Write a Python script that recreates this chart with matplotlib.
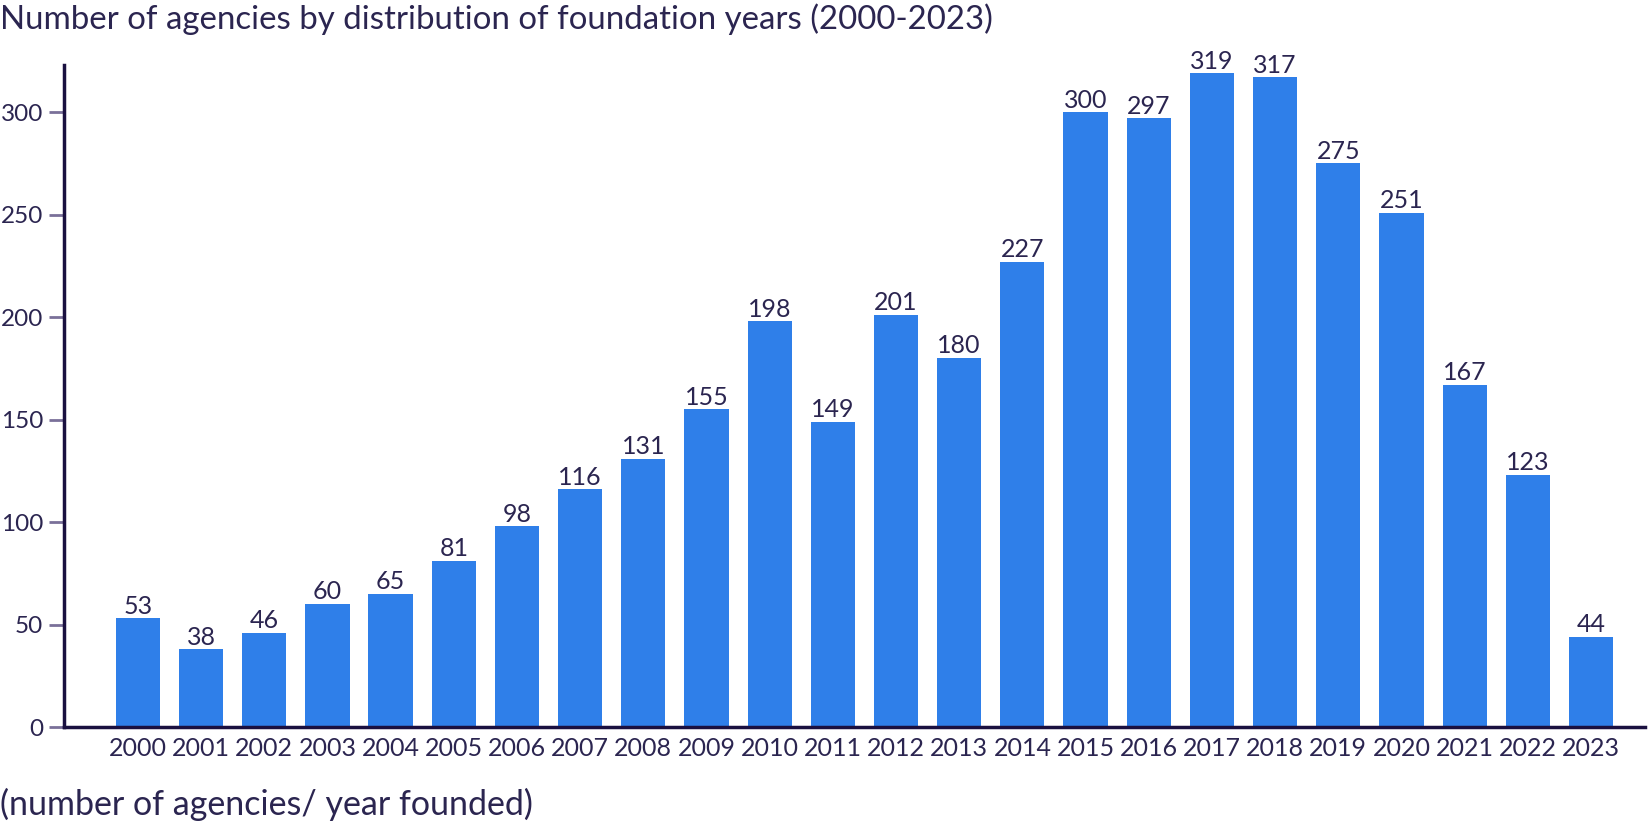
import matplotlib.pyplot as plt

# data
years = [str(y) for y in range(2000, 2024)]
agencies = [53, 38, 46, 60, 65, 81, 98, 116, 131, 155, 198, 149,
            201, 180, 227, 300, 297, 319, 317, 275, 251, 167, 123, 44]
yticks = [0, 50, 100, 150, 200, 250, 300]

text_col = '#2b2550'
bar_col = '#2f7fe9'

plt.rcParams['font.family'] = ['Lato', 'DejaVu Sans']

fig = plt.figure(figsize=(16.48, 8.23), dpi=100)
ax = fig.add_axes([0.0388, 0.1166, 0.9592, 0.8044])

x = range(len(years))
bars = ax.bar(x, agencies, width=0.7, color=bar_col)
for xi, v in zip(x, agencies):
    ax.text(xi, v + 0.3, str(v), ha='center', va='bottom',
            fontsize=18, color=text_col)

ax.set_xlim(-1.17, 23.85)
ax.set_ylim(0, 323)
ax.set_xticks(list(x))
ax.set_xticklabels(years)
ax.set_yticks(yticks)

for s in ['top', 'right']:
    ax.spines[s].set_visible(False)
for s in ['left', 'bottom']:
    ax.spines[s].set_color('#1a1040')
    ax.spines[s].set_linewidth(2.5)

ax.tick_params(axis='x', length=0, pad=7, labelsize=18, labelcolor=text_col)
ax.tick_params(axis='y', length=11, width=2, color='#7a7099', pad=4,
               labelsize=17.5, labelcolor=text_col)

fig.text(0.0, 0.977, 'Number of agencies by distribution of foundation years (2000-2023)',
         ha='left', va='center', fontsize=23.8, color=text_col)
fig.text(0.0, 0.022, '(number of agencies/ year founded)',
         ha='left', va='center', fontsize=24.5, color=text_col)

fig.savefig('out.png', dpi=100)
